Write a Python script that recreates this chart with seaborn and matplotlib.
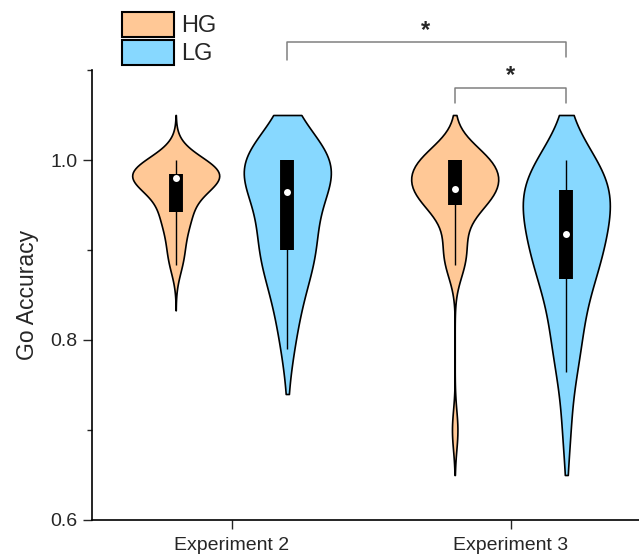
import numpy as np
import pandas as pd
import matplotlib
matplotlib.use("Agg")
import matplotlib.pyplot as plt
from matplotlib.patches import Patch
from matplotlib.ticker import MultipleLocator
import seaborn as sns

# ===============================
# data
# ===============================
experiments = ["Experiment 2", "Experiment 3"]
groups = ["HG", "LG"]

exp2_hg = [0.883, 0.895, 0.910, 0.925, 0.935, 0.940, 0.943, 0.955, 0.965, 0.972,
           0.976, 0.979, 0.981, 0.982, 0.983, 0.983, 0.984, 0.984, 0.985, 0.987,
           0.990, 0.993, 0.997, 1.0]
exp2_lg = [0.79, 0.82, 0.84, 0.86, 0.875, 0.885, 0.895, 0.902, 0.905, 0.91,
           0.915, 0.925, 0.94, 0.96, 0.97, 0.978, 0.985, 0.99, 0.995, 0.998,
           1.0, 1.0, 1.0, 1.0, 1.0, 1.0, 1.0, 1.0]
exp3_hg = [0.70, 0.883, 0.887, 0.895, 0.91, 0.925, 0.945, 0.952, 0.955, 0.958,
           0.96, 0.962, 0.965, 0.967, 0.969, 0.972, 0.975, 0.978, 0.982, 0.988,
           1.0, 1.0, 1.0, 1.0, 1.0, 1.0, 1.0, 1.0]
exp3_lg = [0.70, 0.765, 0.785, 0.80, 0.82, 0.84, 0.86, 0.87, 0.88, 0.89,
           0.895, 0.90, 0.905, 0.91, 0.925, 0.935, 0.945, 0.95, 0.955, 0.96,
           0.965, 0.97, 0.975, 0.98, 0.985, 0.99, 1.0, 1.0]

# kernel bandwidth (accuracy units) for each violin
bandwidths = [0.018, 0.038, 0.022, 0.04]

colors = {"HG": "#FFC896", "LG": "#87D8FF"}

# ===============================
# plot
# ===============================
sns.set_style("ticks")
plt.rcParams["font.family"] = ["Liberation Sans", "DejaVu Sans"]

fig = plt.figure(figsize=(6.39, 5.6), dpi=100)
ax = fig.add_axes([92 / 639, 40 / 560, 558 / 639, 450 / 560])

sets = [("Experiment 2", "HG", exp2_hg), ("Experiment 2", "LG", exp2_lg),
        ("Experiment 3", "HG", exp3_hg), ("Experiment 3", "LG", exp3_lg)]

for (exp, grp, vals), h in zip(sets, bandwidths):
    df = pd.DataFrame({"exp": exp, "group": grp, "acc": vals})
    sd = np.std(vals, ddof=1)
    sns.violinplot(data=df, x="exp", y="acc", hue="group",
                   order=experiments, hue_order=groups, palette=colors,
                   dodge=True, saturation=1,
                   density_norm="width", bw_method=h / sd, cut=0.05 / h,
                   gap=0.22, linecolor="black", linewidth=1.2,
                   inner="box",
                   inner_kws=dict(box_width=10, whis_width=1.0,
                                  marker="o", markersize=5,
                                  markeredgewidth=0,
                                  solid_capstyle="butt"),
                   legend=False, ax=ax)

ax.set_xlim(-0.5, 1.5)
ax.set_ylim(0.6, 1.1)
ax.yaxis.set_minor_locator(MultipleLocator(0.1))
ax.set_yticks([0.6, 0.8, 1.0])
ax.set_yticklabels(["0.6", "0.8", "1.0"])
ax.set_xlabel("")
ax.set_ylabel("Go Accuracy", fontsize=16.5, labelpad=8)
ax.tick_params(axis="both", which="major", labelsize=14, length=6.5, width=1)
ax.tick_params(axis="y", which="minor", length=3.5, width=1)
ax.tick_params(axis="x", pad=6)
ax.tick_params(axis="y", pad=4)
sns.despine(ax=ax)
for s in ["left", "bottom"]:
    ax.spines[s].set_linewidth(1.2)
    ax.spines[s].set_color("black")

# significance brackets
ax.plot([0.2, 0.2, 1.2, 1.2], [1.111, 1.131, 1.131, 1.114],
        color="#808080", lw=1.1, clip_on=False)
ax.text(0.695, 1.137, "*", ha="center", va="baseline", fontsize=17,
        fontweight="bold", clip_on=False)
ax.plot([0.8, 0.8, 1.2, 1.2], [1.063, 1.08, 1.08, 1.063],
        color="#808080", lw=1.1, clip_on=False)
ax.text(1.0, 1.087, "*", ha="center", va="baseline", fontsize=17,
        fontweight="bold", clip_on=False)

handles = [Patch(facecolor=colors[g], edgecolor="black", linewidth=1.5, label=g)
           for g in groups]
fig.legend(handles=handles, loc="upper left",
           bbox_to_anchor=(122 / 639, 1 - 12 / 560), frameon=False,
           fontsize=17, handlelength=2.2, handleheight=1.25,
           labelspacing=0.1, handletextpad=0.3, borderpad=0,
           borderaxespad=0)

fig.savefig("out.png", dpi=100)
